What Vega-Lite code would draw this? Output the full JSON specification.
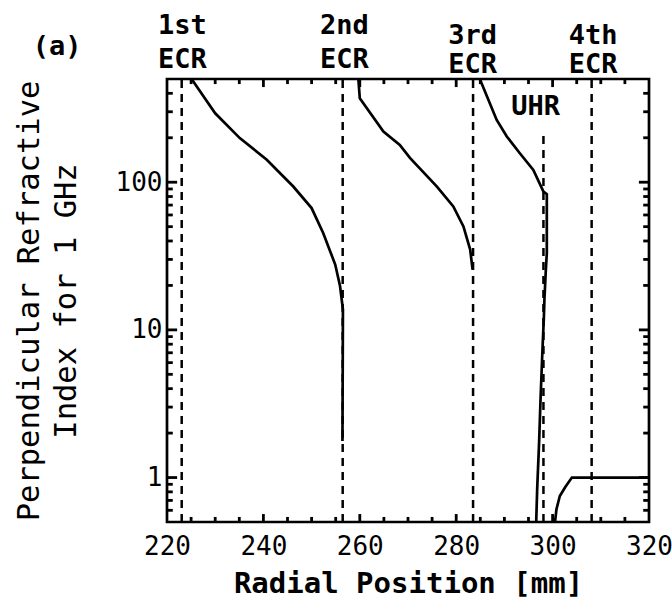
{
  "$schema": "https://vega.github.io/schema/vega-lite/v6.json",
  "width": 482,
  "height": 443,
  "autosize": {"type": "none"},
  "padding": {"left": 167, "top": 79, "right": 23, "bottom": 83},
  "background": "white",
  "config": {
    "view": {"stroke": "black", "strokeWidth": 2.7},
    "axis": {"grid": false, "domain": false, "ticks": false, "labelColor": "black", "titleColor": "black"},
    "rule": {"color": "black"}
  },
  "datasets": {
    "curves": [
      {"seg": "A", "x": 225.1, "y": 500}, {"seg": "A", "x": 230.0, "y": 293}, {"seg": "A", "x": 235.1, "y": 199},
      {"seg": "A", "x": 240.7, "y": 142}, {"seg": "A", "x": 246.2, "y": 93.5}, {"seg": "A", "x": 250.0, "y": 66.8},
      {"seg": "A", "x": 252.4, "y": 45.3}, {"seg": "A", "x": 254.9, "y": 27.7}, {"seg": "A", "x": 255.9, "y": 19.8},
      {"seg": "A", "x": 256.5, "y": 13.7}, {"seg": "A", "x": 256.4, "y": 1.77},
      {"seg": "B", "x": 259.7, "y": 500}, {"seg": "B", "x": 260.0, "y": 370}, {"seg": "B", "x": 264.9, "y": 220},
      {"seg": "B", "x": 268.3, "y": 179}, {"seg": "B", "x": 270.4, "y": 146}, {"seg": "B", "x": 276.0, "y": 93.5},
      {"seg": "B", "x": 279.4, "y": 68.6}, {"seg": "B", "x": 281.5, "y": 50.2}, {"seg": "B", "x": 282.9, "y": 35},
      {"seg": "B", "x": 283.4, "y": 25.6},
      {"seg": "C", "x": 284.9, "y": 500}, {"seg": "C", "x": 288.4, "y": 264}, {"seg": "C", "x": 290.5, "y": 204},
      {"seg": "C", "x": 293.2, "y": 157}, {"seg": "C", "x": 296.0, "y": 121}, {"seg": "C", "x": 298.1, "y": 86.5},
      {"seg": "C", "x": 298.8, "y": 83}, {"seg": "C", "x": 298.8, "y": 33}, {"seg": "C", "x": 298.6, "y": 25.6},
      {"seg": "C", "x": 298.3, "y": 16}, {"seg": "C", "x": 298.2, "y": 12.4}, {"seg": "C", "x": 297.9, "y": 7.4},
      {"seg": "C", "x": 297.5, "y": 3.4}, {"seg": "C", "x": 297.2, "y": 1.73}, {"seg": "C", "x": 296.8, "y": 0.835},
      {"seg": "C", "x": 296.6, "y": 0.5},
      {"seg": "D", "x": 300.5, "y": 0.5}, {"seg": "D", "x": 300.8, "y": 0.61}, {"seg": "D", "x": 301.5, "y": 0.75},
      {"seg": "D", "x": 302.6, "y": 0.86}, {"seg": "D", "x": 304.0, "y": 1.0}, {"seg": "D", "x": 320, "y": 1.0}
    ],
    "ecr": [
      {"name": "1st ECR", "x": 223.05},
      {"name": "2nd ECR", "x": 256.45},
      {"name": "3rd ECR", "x": 283.5},
      {"name": "4th ECR", "x": 308.1}
    ],
    "uhr": [
      {"name": "UHR", "x": 298.1, "y": 0.5, "y2": 215}
    ],
    "labels": [
      {"t": "1st", "x": 223.2, "y": 1007},
      {"t": "ECR", "x": 223.2, "y": 593},
      {"t": "2nd", "x": 256.8, "y": 1007},
      {"t": "ECR", "x": 256.8, "y": 593},
      {"t": "3rd", "x": 283.4, "y": 861},
      {"t": "ECR", "x": 283.4, "y": 550},
      {"t": "4th", "x": 308.4, "y": 861},
      {"t": "ECR", "x": 308.4, "y": 550},
      {"t": "UHR", "x": 296.5, "y": 286},
      {"t": "(a)", "x": 197.2, "y": 726}
    ],
    "xmajor": [{"v": 240}, {"v": 260}, {"v": 280}, {"v": 300}],
    "xminor": [{"v": 225}, {"v": 230}, {"v": 235}, {"v": 245}, {"v": 250}, {"v": 255}, {"v": 265}, {"v": 270},
      {"v": 275}, {"v": 285}, {"v": 290}, {"v": 295}, {"v": 305}, {"v": 310}, {"v": 315}],
    "ymajor": [{"v": 1}, {"v": 10}, {"v": 100}],
    "yminor": [{"v": 0.6}, {"v": 0.7}, {"v": 0.8}, {"v": 0.9}, {"v": 2}, {"v": 3}, {"v": 4}, {"v": 5}, {"v": 6},
      {"v": 7}, {"v": 8}, {"v": 9}, {"v": 20}, {"v": 30}, {"v": 40}, {"v": 50}, {"v": 60}, {"v": 70}, {"v": 80},
      {"v": 90}, {"v": 200}, {"v": 300}, {"v": 400}]
  },
  "resolve": {"axis": {"x": "independent", "y": "independent"}},
  "layer": [
    {
      "data": {"name": "curves"},
      "mark": {"type": "line", "color": "black", "strokeWidth": 2.7, "clip": true},
      "encoding": {
        "x": {"field": "x", "type": "quantitative",
          "scale": {"type": "linear", "domain": [220, 320], "nice": false, "zero": false},
          "axis": {"orient": "bottom", "values": [220, 240, 260, 280, 300, 320], "ticks": false, "labelPadding": 11.5,
            "labelFont": "DejaVu Sans Mono", "labelFontSize": 26, "labelFlush": false,
            "title": "Radial Position [mm]", "titleFont": "DejaVu Sans Mono", "titleFontSize": 29, "titleFontWeight": "bold", "titlePadding": 10}},
        "y": {"field": "y", "type": "quantitative",
          "scale": {"type": "log", "domain": [0.5, 500], "nice": false},
          "axis": {"orient": "left", "values": [1, 10, 100], "ticks": false, "labelPadding": 5,
            "labelFont": "DejaVu Sans Mono", "labelFontSize": 26, "labelFlush": false,
            "title": ["Perpendicular Refractive", "Index for 1 GHz"], "titleFont": "DejaVu Sans Mono", "titleFontSize": 30.5,
            "titleFontWeight": "normal", "titleLineHeight": 37, "titlePadding": 34}},
        "detail": {"field": "seg"},
        "order": {"value": null}
      }
    },
    {
      "data": {"name": "ecr"},
      "mark": {"type": "rule", "color": "black", "strokeWidth": 2.5, "strokeDash": [8, 6]},
      "encoding": {
        "x": {"field": "x", "type": "quantitative",
          "scale": {"type": "linear", "domain": [220, 320], "nice": false, "zero": false}, "axis": null},
        "y": {"datum": 0.5, "scale": {"type": "log", "domain": [0.5, 500], "nice": false}, "axis": null},
        "y2": {"datum": 500}
      }
    },
    {
      "data": {"name": "uhr"},
      "mark": {"type": "rule", "color": "black", "strokeWidth": 2.5, "strokeDash": [8, 6]},
      "encoding": {
        "x": {"field": "x", "type": "quantitative",
          "scale": {"type": "linear", "domain": [220, 320], "nice": false, "zero": false}, "axis": null},
        "y": {"field": "y", "type": "quantitative",
          "scale": {"type": "log", "domain": [0.5, 500], "nice": false}, "axis": null},
        "y2": {"field": "y2"}
      }
    },
    {
      "data": {"name": "xmajor"},
      "mark": {"type": "rule", "color": "black", "strokeWidth": 2.8},
      "encoding": {
        "x": {"field": "v", "type": "quantitative", "scale": {"type": "linear", "domain": [220, 320], "nice": false, "zero": false}, "axis": null},
        "y": {"datum": 0.5, "scale": {"type": "log", "domain": [0.5, 500], "nice": false}, "axis": null},
        "y2": {"datum": 0.566}
      }
    },
    {
      "data": {"name": "xmajor"},
      "mark": {"type": "rule", "color": "black", "strokeWidth": 2.8},
      "encoding": {
        "x": {"field": "v", "type": "quantitative", "scale": {"type": "linear", "domain": [220, 320], "nice": false, "zero": false}, "axis": null},
        "y": {"datum": 500, "scale": {"type": "log", "domain": [0.5, 500], "nice": false}, "axis": null},
        "y2": {"datum": 441}
      }
    },
    {
      "data": {"name": "xminor"},
      "mark": {"type": "rule", "color": "black", "strokeWidth": 2.8},
      "encoding": {
        "x": {"field": "v", "type": "quantitative", "scale": {"type": "linear", "domain": [220, 320], "nice": false, "zero": false}, "axis": null},
        "y": {"datum": 0.5, "scale": {"type": "log", "domain": [0.5, 500], "nice": false}, "axis": null},
        "y2": {"datum": 0.541}
      }
    },
    {
      "data": {"name": "xminor"},
      "mark": {"type": "rule", "color": "black", "strokeWidth": 2.8},
      "encoding": {
        "x": {"field": "v", "type": "quantitative", "scale": {"type": "linear", "domain": [220, 320], "nice": false, "zero": false}, "axis": null},
        "y": {"datum": 500, "scale": {"type": "log", "domain": [0.5, 500], "nice": false}, "axis": null},
        "y2": {"datum": 462}
      }
    },
    {
      "data": {"name": "ymajor"},
      "mark": {"type": "rule", "color": "black", "strokeWidth": 2.8},
      "encoding": {
        "x": {"datum": 220, "scale": {"type": "linear", "domain": [220, 320], "nice": false, "zero": false}, "axis": null},
        "x2": {"datum": 222.1},
        "y": {"field": "v", "type": "quantitative", "scale": {"type": "log", "domain": [0.5, 500], "nice": false}, "axis": null}
      }
    },
    {
      "data": {"name": "ymajor"},
      "mark": {"type": "rule", "color": "black", "strokeWidth": 2.8},
      "encoding": {
        "x": {"datum": 320, "scale": {"type": "linear", "domain": [220, 320], "nice": false, "zero": false}, "axis": null},
        "x2": {"datum": 317.9},
        "y": {"field": "v", "type": "quantitative", "scale": {"type": "log", "domain": [0.5, 500], "nice": false}, "axis": null}
      }
    },
    {
      "data": {"name": "yminor"},
      "mark": {"type": "rule", "color": "black", "strokeWidth": 2.8},
      "encoding": {
        "x": {"datum": 220, "scale": {"type": "linear", "domain": [220, 320], "nice": false, "zero": false}, "axis": null},
        "x2": {"datum": 221.2},
        "y": {"field": "v", "type": "quantitative", "scale": {"type": "log", "domain": [0.5, 500], "nice": false}, "axis": null}
      }
    },
    {
      "data": {"name": "yminor"},
      "mark": {"type": "rule", "color": "black", "strokeWidth": 2.8},
      "encoding": {
        "x": {"datum": 320, "scale": {"type": "linear", "domain": [220, 320], "nice": false, "zero": false}, "axis": null},
        "x2": {"datum": 318.8},
        "y": {"field": "v", "type": "quantitative", "scale": {"type": "log", "domain": [0.5, 500], "nice": false}, "axis": null}
      }
    },
    {
      "data": {"name": "labels"},
      "mark": {"type": "text", "color": "black", "font": "DejaVu Sans Mono", "fontSize": 27, "fontWeight": "bold", "align": "center", "baseline": "alphabetic"},
      "encoding": {
        "x": {"field": "x", "type": "quantitative",
          "scale": {"type": "linear", "domain": [220, 320], "nice": false, "zero": false}, "axis": null},
        "y": {"field": "y", "type": "quantitative",
          "scale": {"type": "log", "domain": [0.5, 500], "nice": false}, "axis": null},
        "text": {"field": "t"}
      }
    }
  ]
}
